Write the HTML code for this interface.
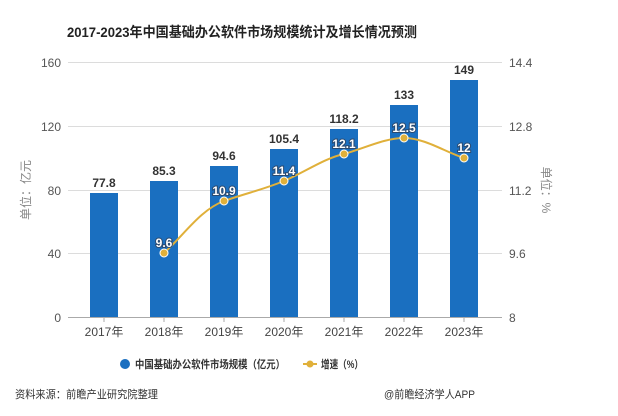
<!DOCTYPE html>
<html><head><meta charset="utf-8"><style>
body{margin:0;background:#fff;}
svg{display:block;font-family:"Liberation Sans","Noto Sans CJK SC",sans-serif;}
</style></head><body>
<svg width="618" height="416" viewBox="0 0 618 416" xmlns="http://www.w3.org/2000/svg">
<rect width="618" height="416" fill="#fff"/>
<text x="67" y="37" font-size="14" font-weight="bold" fill="#222" textLength="350" lengthAdjust="spacingAndGlyphs">2017-2023年中国基础办公软件市场规模统计及增长情况预测</text>
<g stroke="#dcdcdc" stroke-width="1">
<line x1="68" y1="62.5" x2="502" y2="62.5"/>
<line x1="68" y1="126.5" x2="502" y2="126.5"/>
<line x1="68" y1="190.5" x2="502" y2="190.5"/>
<line x1="68" y1="253.5" x2="502" y2="253.5"/>
</g>
<line x1="68" y1="317.5" x2="502" y2="317.5" stroke="#aaa"/>
<g stroke="#aaa"><line x1="104" y1="317" x2="104" y2="322"/><line x1="164" y1="317" x2="164" y2="322"/><line x1="224" y1="317" x2="224" y2="322"/><line x1="284" y1="317" x2="284" y2="322"/><line x1="344" y1="317" x2="344" y2="322"/><line x1="404" y1="317" x2="404" y2="322"/><line x1="464" y1="317" x2="464" y2="322"/></g>
<g font-size="12" fill="#555" text-anchor="end">
<text x="61" y="67">160</text><text x="61" y="131">120</text><text x="61" y="195">80</text><text x="61" y="258">40</text><text x="61" y="322">0</text>
</g>
<g font-size="12" fill="#555">
<text x="509" y="67">14.4</text><text x="509" y="131">12.8</text><text x="509" y="195">11.2</text><text x="509" y="258">9.6</text><text x="509" y="322">8</text>
</g>
<text transform="translate(30,190) rotate(-90)" text-anchor="middle" font-size="12" fill="#888">单位：亿元</text>
<text transform="translate(542,190) rotate(90)" text-anchor="middle" font-size="12" fill="#888">单位：%</text>
<g fill="#1a6fc0">
<rect x="90" y="193" width="28" height="124"/>
<rect x="150" y="181" width="28" height="136"/>
<rect x="210" y="166" width="28" height="151"/>
<rect x="270" y="149" width="28" height="168"/>
<rect x="330" y="129" width="28" height="188"/>
<rect x="390" y="105" width="28" height="212"/>
<rect x="450" y="80" width="28" height="237"/>
</g>
<g font-size="12" font-weight="bold" fill="#333" text-anchor="middle">
<text x="104" y="187">77.8</text><text x="164" y="175">85.3</text><text x="224" y="160">94.6</text><text x="284" y="143">105.4</text><text x="344" y="123">118.2</text><text x="404" y="99">133</text><text x="464" y="74">149</text>
</g>
<path d="M164,253 C184,235 200,210 224,201 C250,192 262,190 284,181 C305,172 325,158 344,154 C365,148 385,138 404,138 C425,138 445,152 464,158" fill="none" stroke="#e0b03a" stroke-width="2"/>
<g fill="#e0b03a" stroke="#fff" stroke-width="1">
<circle cx="164" cy="253" r="4"/><circle cx="224" cy="201" r="4"/><circle cx="284" cy="181" r="4"/><circle cx="344" cy="154" r="4"/><circle cx="404" cy="138" r="4"/><circle cx="464" cy="158" r="4"/>
</g>
<g font-size="12" font-weight="bold" fill="#fff" stroke="#2a4a70" stroke-width="2" paint-order="stroke" text-anchor="middle">
<text x="164" y="247">9.6</text><text x="224" y="195">10.9</text><text x="284" y="175">11.4</text><text x="344" y="148">12.1</text><text x="404" y="132">12.5</text><text x="464" y="152">12</text>
</g>
<g font-size="12" fill="#444" text-anchor="middle">
<text x="104" y="336">2017年</text><text x="164" y="336">2018年</text><text x="224" y="336">2019年</text><text x="284" y="336">2020年</text><text x="344" y="336">2021年</text><text x="404" y="336">2022年</text><text x="464" y="336">2023年</text>
</g>
<circle cx="125" cy="364" r="5" fill="#1a6fc0"/>
<text x="135" y="368" font-size="11" font-weight="bold" fill="#333" textLength="150" lengthAdjust="spacingAndGlyphs">中国基础办公软件市场规模（亿元）</text>
<line x1="303" y1="364" x2="317" y2="364" stroke="#e0b03a" stroke-width="2"/>
<circle cx="310" cy="364" r="3.5" fill="#e0b03a"/>
<text x="321" y="368" font-size="11" font-weight="bold" fill="#333" textLength="42" lengthAdjust="spacingAndGlyphs">增速（%）</text>
<text x="15" y="398" font-size="11" fill="#333" textLength="143" lengthAdjust="spacingAndGlyphs">资料来源：前瞻产业研究院整理</text>
<text x="384" y="398" font-size="11" fill="#333" textLength="91" lengthAdjust="spacingAndGlyphs">@前瞻经济学人APP</text>
</svg>
</body></html>
